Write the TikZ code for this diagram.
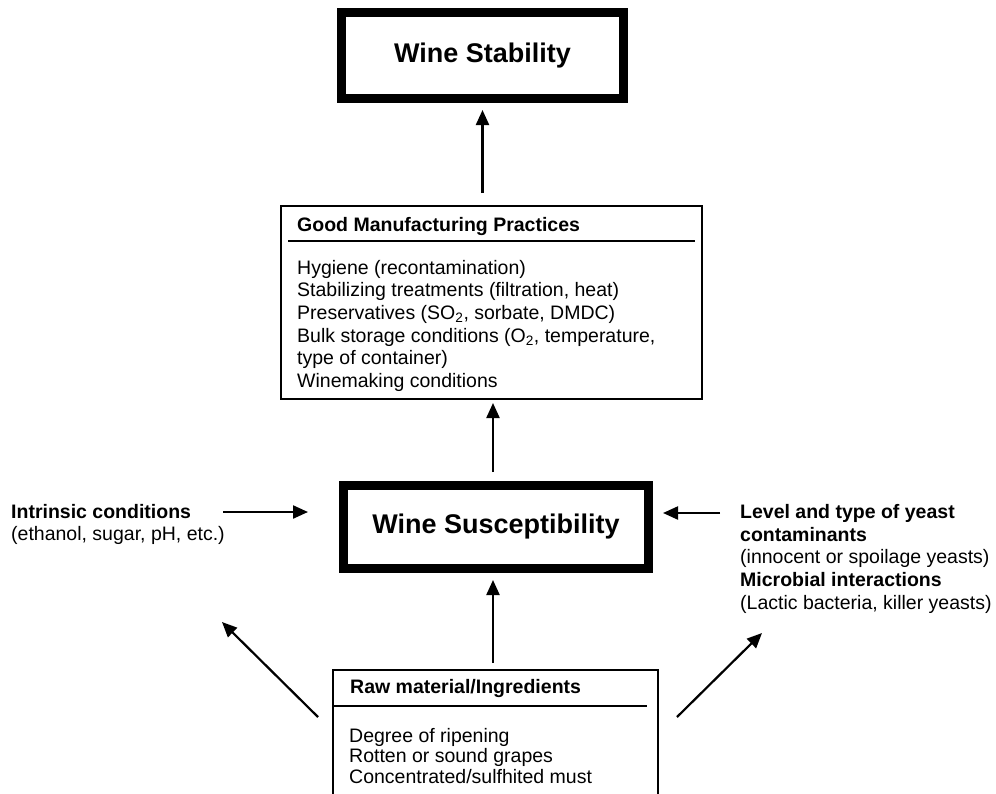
\documentclass[tikz,border=0pt]{standalone}
\usepackage{fontspec}
\setmainfont{Liberation Sans}
\usetikzlibrary{arrows.meta,calc}
\tikzset{
  bigbox/.style={draw, line width=9pt, inner sep=0pt, font=\fontsize{27}{32}\selectfont\bfseries},
  listbox/.style={draw, line width=2pt, inner sep=0pt},
  body/.style={inner sep=0pt, anchor=base west, font=\fontsize{19.5}{22}\selectfont},
  bodyb/.style={inner sep=0pt, anchor=base west, font=\fontsize{19.5}{22}\selectfont\bfseries},
  arr/.style={line width=2.2pt, -{Triangle[length=15pt,width=13pt]}},
  rulestyle/.style={line width=1.6pt}
}
\begin{document}
\begin{tikzpicture}[x=1pt,y=-1pt]
\useasboundingbox (0,0) rectangle (996,793);
\fill[white] (0,0) rectangle (996,793);
\clip (0,0) rectangle (996,793);

% Wine Stability
\node[bigbox, minimum width=282pt, minimum height=86pt] (stab) at (482.5,55.5) {\raisebox{-3.5pt}{Wine Stability}};

% Good Manufacturing Practices
\node[listbox, minimum width=421pt, minimum height=193pt] (gmp) at (491.5,302.5) {};
\node[bodyb] (gmph) at (297,231) {Good Manufacturing Practices};
\draw[rulestyle] ($(gmp.north west)+(8,36)$) -- ($(gmp.north east)+(-8,36)$);
\node[body] (g1) at (297,274) {Hygiene (recontamination)};
\node[body] (g2) at (297,296.7) {Stabilizing treatments (filtration, heat)};
\node[body] (g3) at (297,319.4) {Preservatives (SO\textsubscript{2}, sorbate, DMDC)};
\node[body] (g4) at (297,342.1) {Bulk storage conditions (O\textsubscript{2}, temperature,};
\node[body] (g5) at (297,364.8) {type of container)};
\node[body] (g6) at (297,387.5) {Winemaking conditions};

% Wine Susceptibility
\node[bigbox, minimum width=305pt, minimum height=83pt] (susc) at (496,527) {\raisebox{-4pt}{Wine Susceptibility}};

% Intrinsic conditions
\node[bodyb] (in1) at (11,518) {Intrinsic conditions};
\node[body] (in2) at (11,540) {(ethanol, sugar, pH, etc.)};

% Yeast contaminants
\node[bodyb] (ye1) at (740,518) {Level and type of yeast};
\node[bodyb] (ye2) at (740,541) {contaminants};
\node[body] (ye3) at (740,563.5) {(innocent or spoilage yeasts)};
\node[bodyb] (ye4) at (740,586) {Microbial interactions};
\node[body] (ye5) at (740,609) {(Lactic bacteria, killer yeasts)};

% Raw material
\node[listbox, minimum width=325pt, minimum height=160pt] (raw) at (495.5,750) {};
\node[bodyb] (rawh) at (350,693) {Raw material/Ingredients};
\draw[rulestyle] ($(raw.north west)+(1,37)$) -- ($(raw.north east)+(-12,37)$);
\node[body] (r1) at (349,742) {Degree of ripening};
\node[body] (r2) at (349,762.5) {Rotten or sound grapes};
\node[body] (r3) at (349,783) {Concentrated/sulfhited must};

% free ends
\coordinate (lt) at (223,512);
\coordinate (rt) at (720,513);
\coordinate (dlt) at (318,717);
\coordinate (dlh) at (222,622);
\coordinate (drt) at (677,717);
\coordinate (drh) at (762,633);

% connectors
\draw[arr, shorten <=12pt, shorten >=7pt] (stab.south |- gmp.north) -- (stab.south);
\draw[arr, shorten <=9pt, shorten >=3pt] ([xshift=-3pt]susc.north) -- ([xshift=1.5pt]gmp.south);
\draw[arr, shorten <=6pt, shorten >=7pt] ([xshift=-2.5pt]raw.north) -- ([xshift=-3pt]susc.south);
\draw[arr, shorten >=31pt] (lt) -- ([yshift=15pt]susc.west);
\draw[arr, shorten >=10pt] (rt) -- ([yshift=14pt]susc.east);
\draw[arr] (dlt) -- (dlh);
\draw[arr] (drt) -- (drh);
\end{tikzpicture}
\end{document}
